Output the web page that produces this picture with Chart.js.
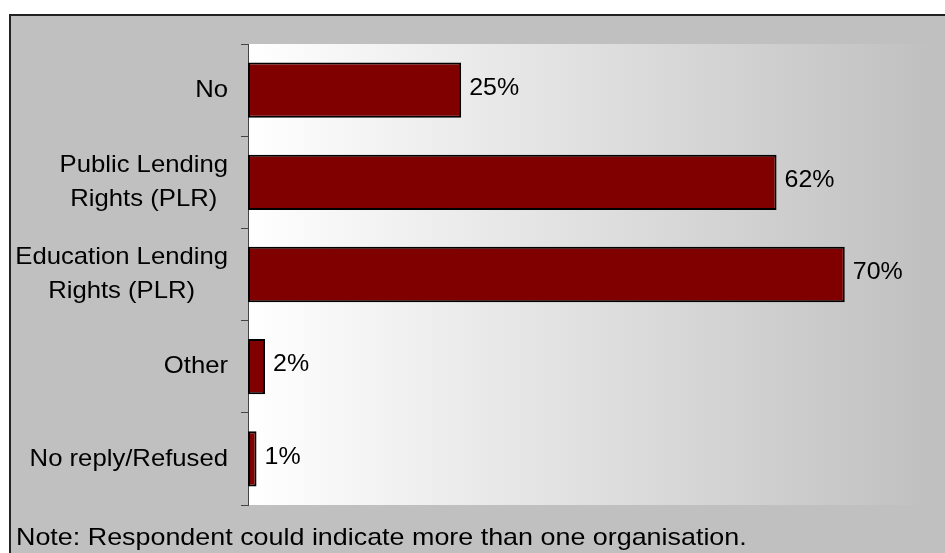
<!DOCTYPE html>
<html>
<head>
<meta charset="utf-8">
<script src="https://cdn.jsdelivr.net/npm/chart.js@4"></script>
<style>
  html, body { margin: 0; padding: 0; background: #fff; }
  #wrap { width: 945px; height: 553px; position: relative; }
</style>
</head>
<body>
<div id="wrap"><canvas id="myChart"></canvas></div>
<script>
// categories and answers (% of respondents)
const categories = [
  'No',
  ['Public Lending', 'Rights (PLR)'],
  ['Education Lending', 'Rights (PLR)'],
  'Other',
  'No reply/Refused'
];
const shares = [25, 62, 70, 2, 1];
const axisMax = 80;
const noteText = 'Note: Respondent could indicate more than one organisation.';

const FONT = "'Liberation Sans', Arial, sans-serif";

// text drawn slightly wide, like the original export
function wideText(c, text, x, y, sx) {
  c.save();
  c.translate(x, y);
  c.scale(sx, 1);
  c.textAlign = 'left';
  c.fillText(text, 0, 0);
  c.restore();
}

// grey panel, frame and the white-to-grey plot backdrop
const backdrop = {
  id: 'backdrop',
  beforeDraw(chart) {
    const c = chart.ctx;
    const a = chart.chartArea;
    c.save();
    c.fillStyle = '#ffffff';
    c.fillRect(0, 0, chart.width, chart.height);
    c.fillStyle = '#c0c0c0';
    c.fillRect(10, 14, chart.width, chart.height);
    c.strokeStyle = '#222';
    c.lineWidth = 2;
    c.beginPath();
    c.moveTo(10, chart.height + 5);
    c.lineTo(10, 15);
    c.lineTo(chart.width + 5, 15);
    c.stroke();
    const g = c.createLinearGradient(a.left, 0, a.right, 0);
    g.addColorStop(0, '#ffffff');
    g.addColorStop(1, '#c0c0c0');
    c.fillStyle = g;
    c.fillRect(a.left, a.top, a.right - a.left, a.bottom - a.top);
    c.restore();
  },
  afterDraw(chart) {
    const c = chart.ctx;
    const yScale = chart.scales.y;
    const sx = 1.07;
    c.save();
    c.fillStyle = '#000';
    c.font = '24px ' + FONT;
    c.textBaseline = 'middle';
    // category names: block right aligned at the ticks, lines centred in the block
    chart.data.labels.forEach(function(lab, i) {
      const lines = Array.isArray(lab) ? lab : [lab];
      const widths = lines.map(function(t) { return c.measureText(t).width * sx; });
      const blockW = Math.max.apply(null, widths);
      const mid = 228 - blockW / 2;
      const yc = yScale.getPixelForTick(i);
      const lh = 34;
      lines.forEach(function(line, k) {
        const y = yc + (k - (lines.length - 1) / 2) * lh;
        wideText(c, line, mid - widths[k] / 2, y, sx);
      });
    });
    c.textBaseline = 'alphabetic';
    wideText(c, noteText, 16, 545, 1.12);
    c.restore();
  }
};

// percentage next to the end of each bar
const valueLabels = {
  id: 'valueLabels',
  afterDatasetsDraw(chart) {
    const c = chart.ctx;
    const meta = chart.getDatasetMeta(0);
    c.save();
    c.fillStyle = '#000';
    c.font = '24px ' + FONT;
    c.textBaseline = 'middle';
    meta.data.forEach(function(bar, i) {
      wideText(c, shares[i] + '%', bar.x + 8, bar.y - 2, 1.04);
    });
    c.restore();
  }
};

const ctx = document.getElementById('myChart');
const chart = new Chart(ctx, {
  type: 'bar',
  data: {
    labels: categories,
    datasets: [{
      data: shares,
      backgroundColor: '#800000',
      borderColor: '#000000',
      borderWidth: 2,
      borderSkipped: false,
      barPercentage: 0.6,
      categoryPercentage: 1
    }]
  },
  options: {
    indexAxis: 'y',
    responsive: true,
    maintainAspectRatio: false,
    animation: false,
    layout: { padding: { top: 44, bottom: 48, right: 15, left: 0 } },
    plugins: {
      legend: { display: false },
      tooltip: { enabled: false }
    },
    scales: {
      x: {
        display: false,
        min: 0,
        max: axisMax
      },
      y: {
        afterFit(scale) { scale.width = 248; },
        grid: {
          offset: true,
          drawOnChartArea: false,
          drawTicks: true,
          tickLength: 7,
          color: '#444'
        },
        border: { display: true, color: '#444', width: 1 },
        ticks: { display: false }
      }
    }
  },
  plugins: [backdrop, valueLabels]
});
</script>
</body>
</html>
